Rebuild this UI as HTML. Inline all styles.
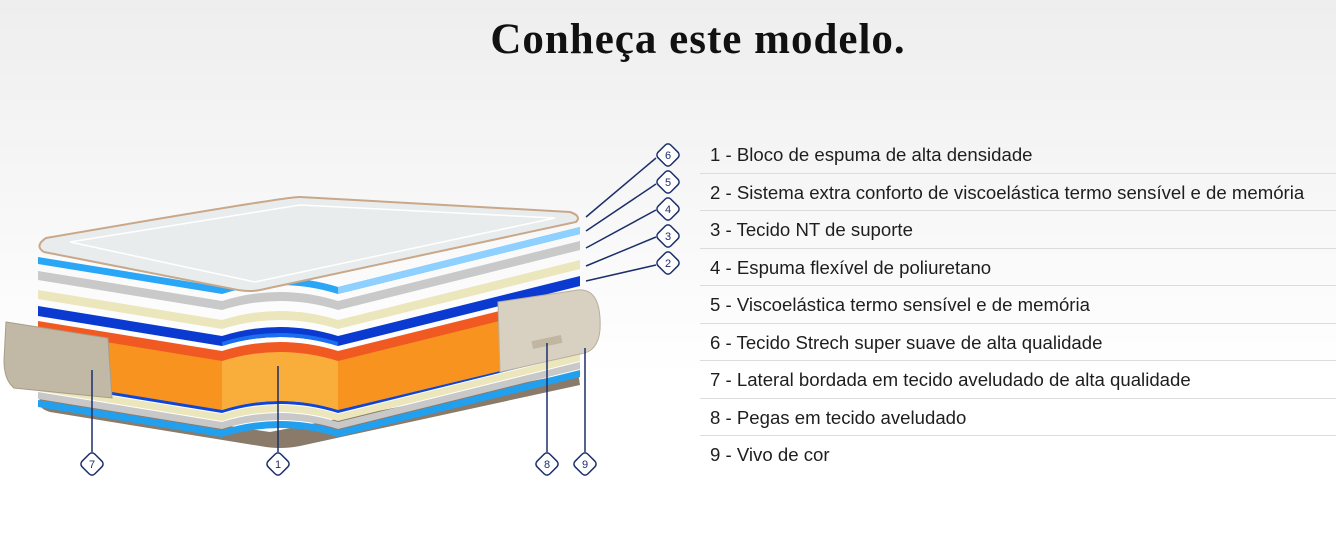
<!DOCTYPE html>
<html><head><meta charset="utf-8"><style>
html,body{margin:0;padding:0}
body{width:1336px;height:540px;overflow:hidden;background:linear-gradient(#eeeeee,#ffffff 70%);position:relative;font-family:"Liberation Sans",sans-serif}
h1{position:absolute;top:15px;left:0;width:1396px;text-align:center;margin:0;font:bold 43px "Liberation Serif",serif;color:#111;letter-spacing:1px}
.list{position:absolute;left:700px;top:136px;width:636px}
.row{height:37.5px;border-bottom:1px solid #dcdcdc;box-sizing:border-box;padding-left:10px;font-size:18.6px;line-height:37px;color:#1e1e1e;white-space:nowrap}
.row:last-child{border-bottom:none}
svg{position:absolute;left:0;top:0}
</style></head><body>
<h1>Conheça este modelo.</h1>
<svg width="700" height="540" viewBox="0 0 700 540">
<defs>
<path id="L7" d="M38,0 L222,30 Q280,12 338,30 L580,-30 L580,-23 L338,37 Q280,19 222,37 L38,7 Z"/>
<path id="L9" d="M38,0 L222,30 Q280,12 338,30 L580,-30 L580,-21 L338,39 Q280,21 222,39 L38,9 Z"/>
<path id="L10" d="M38,0 L222,30 Q280,12 338,30 L580,-30 L580,-20 L338,40 Q280,22 222,40 L38,10 Z"/>
</defs>
<path d="M40,398 L270,432 L578,372 L580,385 L300,446 Q280,450 260,446 L50,412 Q36,408 40,398Z" fill="#8a7a6a"/>
<use href="#L7" transform="translate(0,400)" fill="#22a0f0"/>
<use href="#L7" transform="translate(0,392)" fill="#c8c8c8"/>
<use href="#L7" transform="translate(0,384)" fill="#ece6bc"/>
<use href="#L7" transform="translate(0,376)" fill="#1046d8"/>
<path d="M38,322 L222,352 Q280,334 338,352 L580,292 L580,352 L338,410 Q280,392 222,410 L38,380 Z" fill="#f7931e"/>
<path d="M222,352 Q280,334 338,352 L338,410 Q280,392 222,410 Z" fill="#f9ae3c"/>
<use href="#L10" transform="translate(0,321)" fill="#f05a22"/>
<use href="#L10" transform="translate(0,306)" fill="#0b3ad0"/>
<path d="M222,342 Q280,324 338,342 L338,346 Q280,328 222,346Z" fill="#1a6ef0"/>
<use href="#L9" transform="translate(0,290)" fill="#ece6bc"/>
<use href="#L9" transform="translate(0,271)" fill="#c9c9c9"/>
<use href="#L7" transform="translate(0,257)" fill="#2aa6f6"/>
<path d="M338,287 L580,227 L580,234 L338,294 Z" fill="#8ed0ff"/>
<path d="M46,238 Q290,196 300,197 L570,212 Q582,216 576,222 L260,290 Q250,292 238,290 L44,252 Q34,246 46,238Z" fill="#e9eced" stroke="#c9a88a" stroke-width="2"/>
<path d="M70,242 L300,205 L555,218 L255,282 Z" fill="none" stroke="#fff" stroke-width="1.5"/>
<path d="M6,322 L108,338 L112,398 L14,388 Q4,380 4,360 Z" fill="#c2b8a6" stroke="#a89c88"/>
<path d="M498,302 L578,290 Q602,288 600,330 Q598,352 580,354 L500,372 Z" fill="#d8d0c0" stroke="#b8ae9c"/>
<rect x="532" y="338" width="30" height="8" fill="#c0b6a2" transform="rotate(-12 547 342)"/>
<g stroke="#1b2f6b" stroke-width="1.5" fill="none">
<line x1="586" y1="217" x2="656" y2="158"/>
<line x1="586" y1="231" x2="656" y2="184"/>
<line x1="586" y1="248" x2="656" y2="210"/>
<line x1="586" y1="266" x2="656" y2="237"/>
<line x1="586" y1="281" x2="656" y2="265"/>
<line x1="92" y1="370" x2="92" y2="452"/>
<line x1="278" y1="366" x2="278" y2="452"/>
<line x1="547" y1="343" x2="547" y2="452"/>
<line x1="585" y1="348" x2="585" y2="452"/>
</g>
<g stroke="#1b2f6b" stroke-width="1.5" fill="#fff">
<rect x="659" y="146" width="18" height="18" rx="4" transform="rotate(45 668 155)"/>
<rect x="659" y="173" width="18" height="18" rx="4" transform="rotate(45 668 182)"/>
<rect x="659" y="200" width="18" height="18" rx="4" transform="rotate(45 668 209)"/>
<rect x="659" y="227" width="18" height="18" rx="4" transform="rotate(45 668 236)"/>
<rect x="659" y="254" width="18" height="18" rx="4" transform="rotate(45 668 263)"/>
<rect x="83" y="455" width="18" height="18" rx="4" transform="rotate(45 92 464)"/>
<rect x="269" y="455" width="18" height="18" rx="4" transform="rotate(45 278 464)"/>
<rect x="538" y="455" width="18" height="18" rx="4" transform="rotate(45 547 464)"/>
<rect x="576" y="455" width="18" height="18" rx="4" transform="rotate(45 585 464)"/>
</g>
<g font-family="Liberation Sans,sans-serif" font-size="11" fill="#1b2f6b" text-anchor="middle">
<text x="668" y="159">6</text><text x="668" y="186">5</text><text x="668" y="213">4</text>
<text x="668" y="240">3</text><text x="668" y="267">2</text>
<text x="92" y="468">7</text><text x="278" y="468">1</text><text x="547" y="468">8</text><text x="585" y="468">9</text>
</g>
</svg>
<div class="list">
<div class="row">1 - Bloco de espuma de alta densidade</div>
<div class="row">2 - Sistema extra conforto de viscoelástica termo sensível e de memória</div>
<div class="row">3 - Tecido NT de suporte</div>
<div class="row">4 - Espuma flexível de poliuretano</div>
<div class="row">5 - Viscoelástica termo sensível e de memória</div>
<div class="row">6 - Tecido Strech super suave de alta qualidade</div>
<div class="row">7 - Lateral bordada em tecido aveludado de alta qualidade</div>
<div class="row">8 - Pegas em tecido aveludado</div>
<div class="row">9 - Vivo de cor</div>
</div>
</body></html>
